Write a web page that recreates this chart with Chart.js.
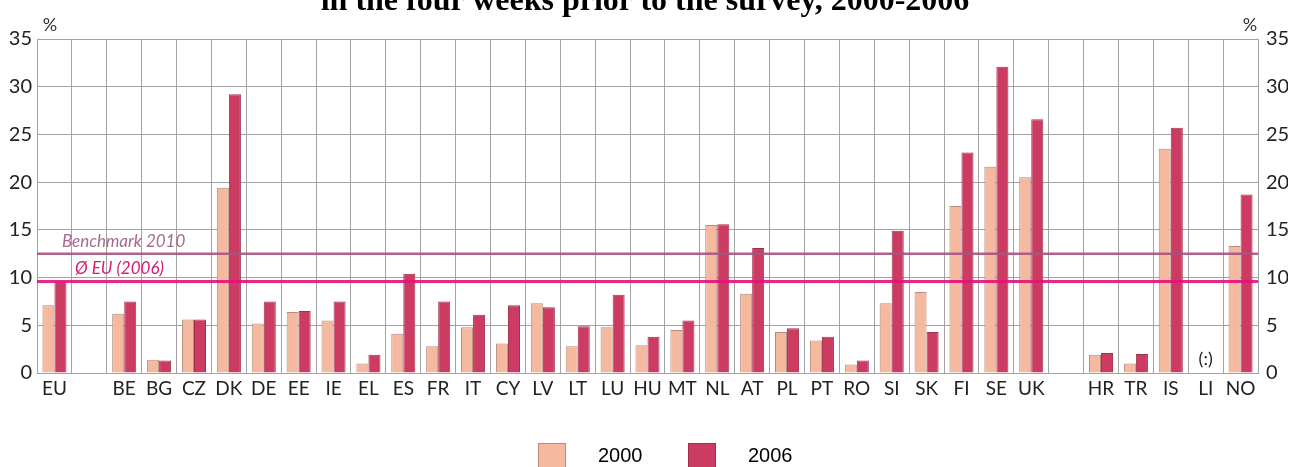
<!DOCTYPE html>
<html>
<head>
<meta charset="utf-8">
<script src="https://cdn.jsdelivr.net/npm/chart.js@4/dist/chart.umd.min.js"></script>
<style>
  html, body { margin: 0; padding: 0; background: #fff; overflow: hidden; }
  #wrap { position: relative; width: 1290px; height: 467px; }
  #title {
    position: absolute; left: 0; top: -17px; width: 1290px; text-align: center;
    font: bold 32px "Liberation Serif", serif; line-height: 32px; color: #000;
  }
  #chart_box { position: absolute; left: 0; top: 0; width: 1290px; height: 467px; }
  #legend { position: absolute; left: 0; top: 443px; width: 1290px; height: 40px; }
  .legend_item { position: absolute; top: 0; }
  .legend_box { position: absolute; top: 0; width: 28px; height: 28px; box-sizing: border-box; }
  .legend_text { position: absolute; top: 1px; font: 20px "Liberation Sans", Arial, sans-serif; color: #000; }
</style>
</head>
<body>
<div id="wrap">
  <div id="chart_box"><canvas id="bars_canvas"></canvas></div>
  <div id="title">in the four weeks prior to the survey, 2000-2006</div>
  <div id="legend"></div>
</div>
<script>
// Country codes, with two empty slots separating the groups.
const categories = [
  'EU', '', 'BE', 'BG', 'CZ', 'DK', 'DE', 'EE', 'IE', 'EL', 'ES', 'FR', 'IT',
  'CY', 'LV', 'LT', 'LU', 'HU', 'MT', 'NL', 'AT', 'PL', 'PT', 'RO', 'SI', 'SK',
  'FI', 'SE', 'UK', '', 'HR', 'TR', 'IS', 'LI', 'NO'
];

const values_2000 = [
  7.1, null, 6.2, 1.4, 5.6, 19.4, 5.2, 6.4, 5.5, 1.0, 4.1, 2.8, 4.8,
  3.1, 7.3, 2.8, 4.8, 2.9, 4.5, 15.5, 8.3, 4.3, 3.4, 0.9, 7.3, 8.5,
  17.5, 21.6, 20.5, null, 1.9, 1.0, 23.5, null, 13.3
];

const values_2006 = [
  9.6, null, 7.5, 1.3, 5.6, 29.2, 7.5, 6.5, 7.5, 1.9, 10.4, 7.5, 6.1,
  7.1, 6.9, 4.9, 8.2, 3.8, 5.5, 15.6, 13.1, 4.7, 3.8, 1.3, 14.9, 4.3,
  23.1, 32.1, 26.6, null, 2.1, 2.0, 25.7, null, 18.7
];

const series_labels = ['2000', '2006'];
const series_colors = ['#f5b9a0', '#cc3c62'];
const series_borders = ['#b48c7e', '#a0304e'];

const benchmark_2010 = 12.5;
const eu_average_2006 = 9.6;
const not_available_code = 'LI';

const y_min = 0;
const y_max = 35;
const y_step = 5;

Chart.defaults.font.family = 'Lato, "Open Sans", sans-serif';
Chart.defaults.color = '#222';

/**
 * Draws the benchmark and EU average lines over the bars, their italic
 * captions, the "%" unit marks and the "(:)" note for missing data.
 */
const reference_lines_plugin = {
  id: 'reference_lines',
  afterDatasetsDraw(chart) {
    const ctx = chart.ctx;
    const area = chart.chartArea;
    const y_scale = chart.scales.y;
    const x_scale = chart.scales.x;

    const draw_line = (value, color, width) => {
      const y = y_scale.getPixelForValue(value);
      ctx.save();
      ctx.globalAlpha = 0.9;
      ctx.strokeStyle = color;
      ctx.lineWidth = width;
      ctx.beginPath();
      ctx.moveTo(area.left, y);
      ctx.lineTo(area.right, y);
      ctx.stroke();
      ctx.restore();
      return y;
    };

    const bench_y = draw_line(benchmark_2010, '#a8527f', 2.5);
    const avg_y = draw_line(eu_average_2006, '#e3127a', 3);

    ctx.save();
    ctx.textBaseline = 'middle';
    ctx.textAlign = 'left';
    ctx.font = 'italic 17px Lato, sans-serif';
    ctx.fillStyle = '#a86a90';
    ctx.fillText('Benchmark 2010', area.left + 25, bench_y - 12);
    ctx.fillStyle = '#d61c74';
    ctx.fillText('\u00d8 EU (2006)', area.left + 38, avg_y - 13);

    ctx.font = '18px Lato, sans-serif';
    ctx.fillStyle = '#333';
    ctx.textAlign = 'center';
    ctx.fillText('%', area.left + 13, area.top - 14);
    ctx.fillText('%', area.right - 8, area.top - 14);

    const li_x = x_scale.getPixelForValue(categories.indexOf(not_available_code));
    ctx.font = '18px Lato, sans-serif';
    ctx.fillStyle = '#222';
    ctx.fillText('(:)', li_x, y_scale.getPixelForValue(1.4));
    ctx.restore();
  }
};

function axis_ticks(padding) {
  return {
    stepSize: y_step,
    padding: padding,
    font: { size: 20 },
    color: '#222'
  };
}

function init_chart() {
  const datasets = [values_2000, values_2006].map((values, i) => ({
    label: series_labels[i],
    data: values,
    backgroundColor: series_colors[i],
    borderColor: series_borders[i],
    borderWidth: 1,
    categoryPercentage: 0.69,
    barPercentage: 1.0
  }));

  return new Chart(document.getElementById('bars_canvas'), {
    type: 'bar',
    data: { labels: categories, datasets: datasets },
    options: {
      responsive: true,
      maintainAspectRatio: false,
      animation: false,
      layout: { padding: { left: 10, right: 2, top: 39, bottom: 66 } },
      plugins: {
        legend: { display: false },
        title: { display: false },
        tooltip: { enabled: false }
      },
      scales: {
        x: {
          offset: true,
          grid: { offset: true, color: '#a3a3a3', lineWidth: 1, drawTicks: false },
          border: { color: '#a3a3a3' },
          ticks: { padding: 4, font: { size: 19 }, color: '#222', autoSkip: false, maxRotation: 0 },
          afterFit(axis) { axis.height = 28; }
        },
        y: {
          position: 'left',
          min: y_min,
          max: y_max,
          grid: { color: '#a3a3a3', lineWidth: 1, drawTicks: false },
          border: { color: '#a3a3a3' },
          ticks: axis_ticks(5),
          afterFit(axis) { axis.width = 27; }
        },
        y2: {
          position: 'right',
          min: y_min,
          max: y_max,
          grid: { display: false, drawTicks: false },
          border: { color: '#a3a3a3' },
          ticks: axis_ticks(8),
          afterFit(axis) { axis.width = 30; }
        }
      }
    },
    plugins: [reference_lines_plugin]
  });
}

/**
 * Builds the legend below the chart from the series names and colours.
 */
function build_legend() {
  const legend = document.getElementById('legend');
  const item_left = [538, 688];
  series_labels.forEach((label, i) => {
    const item = document.createElement('div');
    item.className = 'legend_item';
    item.style.left = item_left[i] + 'px';
    const box = document.createElement('div');
    box.className = 'legend_box';
    box.style.background = series_colors[i];
    box.style.border = '1px solid ' + series_borders[i];
    const text = document.createElement('div');
    text.className = 'legend_text';
    text.style.left = '60px';
    text.textContent = label;
    item.appendChild(box);
    item.appendChild(text);
    legend.appendChild(item);
  });
}

init_chart();
build_legend();
</script>
</body>
</html>
